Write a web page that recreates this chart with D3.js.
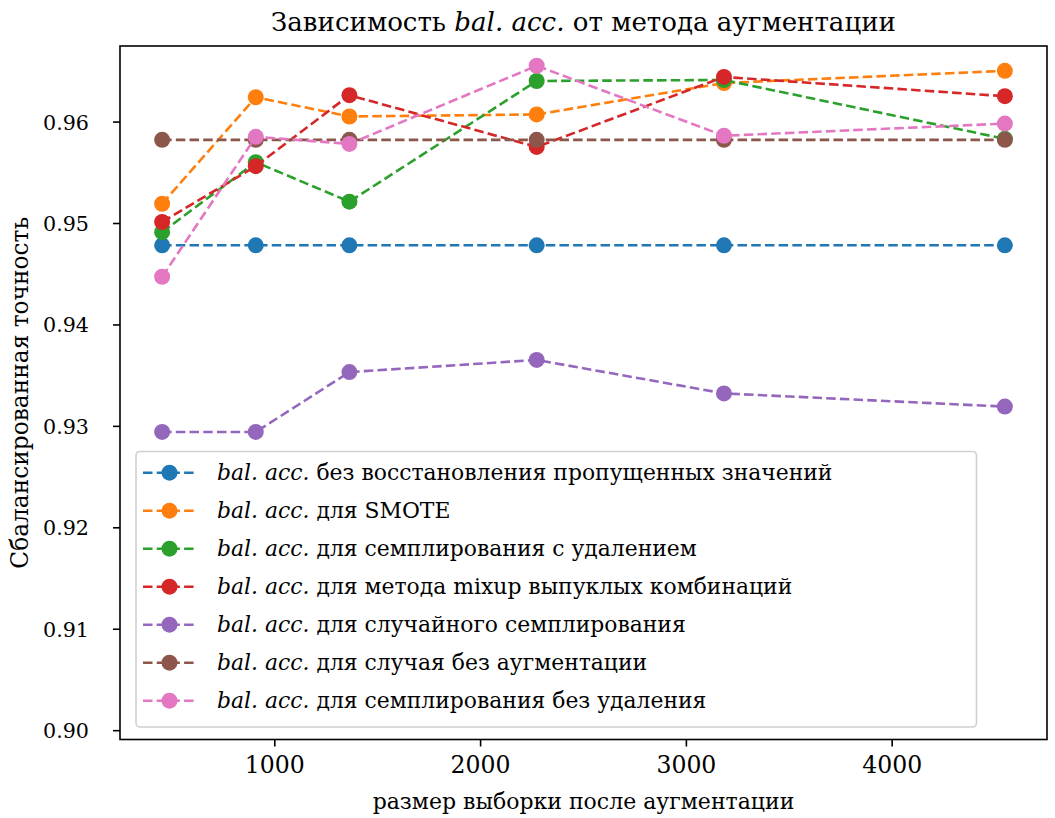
<!DOCTYPE html>
<html><head><meta charset="utf-8">
<script src="https://cdn.jsdelivr.net/npm/d3@7"></script>
<style>body{margin:0;background:#fff;} text{font-family:"DejaVu Serif","Liberation Serif",serif;}</style>
</head><body><svg id="c" width="1055" height="818"></svg>
<script>
const sizes = [455, 910, 1365, 2275, 3185, 4550];
const noAug = [0.9478, 0.9478, 0.9478, 0.9478, 0.9478, 0.9478];
const smote = [0.9519, 0.9624, 0.9605, 0.9607, 0.9638, 0.9650];
const sampDel = [0.9491, 0.9560, 0.9521, 0.9640, 0.9641, 0.9583];
const mixup = [0.9501, 0.9556, 0.9626, 0.9575, 0.9644, 0.9625];
const randSamp = [0.9294, 0.9294, 0.9353, 0.9365, 0.9332, 0.9319];
const baseline = [0.9582, 0.9582, 0.9582, 0.9582, 0.9582, 0.9582];
const sampNoDel = [0.9447, 0.9585, 0.9578, 0.9655, 0.9586, 0.9598];
const seriesLabels = ["без восстановления пропущенных значений", "для SMOTE", "для семплирования с удалением",
  "для метода mixup выпуклых комбинаций", "для случайного семплирования", "для случая без аугментации",
  "для семплирования без удаления"];
const colors = ["#1f77b4", "#ff7f0e", "#2ca02c", "#d62728", "#9467bd", "#8c564b", "#e377c2"];
const xTicks = [1000, 2000, 3000, 4000];
const yTicks = [0.90, 0.91, 0.92, 0.93, 0.94, 0.95, 0.96];
const allSeries = [noAug, smote, sampDel, mixup, randSamp, baseline, sampNoDel];

const svg = d3.select("#c");
const L = 120, R = 1047, T = 46, B = 739.5;
const pad = (sizes[sizes.length-1] - sizes[0]) * 0.05;
const x = d3.scaleLinear().domain([sizes[0] - pad, sizes[sizes.length-1] + pad]).range([L, R]);
const y = d3.scaleLinear().domain([0.89908, 0.96745]).range([B, T]);

// scale a text's font-size so its width matches a target width
function fit(sel, target) {
  const fs = +sel.attr("font-size");
  const w = sel.node().getComputedTextLength();
  const nfs = fs * target / w;
  sel.attr("font-size", nfs);
  return nfs;
}

// axes
const xa = svg.append("g").attr("transform", `translate(0,${B})`)
  .call(d3.axisBottom(x).tickValues(xTicks).tickFormat(d3.format("d")).tickSize(7).tickPadding(8));
const ya = svg.append("g").attr("transform", `translate(${L},0)`)
  .call(d3.axisLeft(y).tickValues(yTicks).tickFormat(d3.format(".2f")).tickSize(7).tickPadding(24));
[xa, ya].forEach(a => {
  a.select(".domain").remove();
  a.selectAll("line").attr("stroke", "#000").attr("stroke-width", 1.6);
  a.selectAll("text").attr("font-size", 20).attr("fill", "#000")
   .style("font-family", '"DejaVu Serif",serif');
});
ya.selectAll("text").attr("dy", "0.36em");
xa.selectAll("text").attr("dy", "0.8em");
{
  const fx = fit(xa.select("text"), 60);
  xa.selectAll("text").attr("font-size", fx);
  const fy = fit(ya.select("text"), 46);
  ya.selectAll("text").attr("font-size", fy);
}

// lines
const line = d3.line().x((d, i) => x(sizes[i])).y(d => y(d));
allSeries.forEach((s, k) => {
  const g = svg.append("g");
  g.append("path").datum(s).attr("d", line).attr("fill", "none")
    .attr("stroke", colors[k]).attr("stroke-width", 2.6).attr("stroke-dasharray", "9.5,4.2");
  g.selectAll("circle").data(s).join("circle")
    .attr("cx", (d, i) => x(sizes[i])).attr("cy", d => y(d)).attr("r", 8).attr("fill", colors[k]);
});

// frame
svg.append("rect").attr("x", L).attr("y", T).attr("width", R - L).attr("height", B - T)
  .attr("fill", "none").attr("stroke", "#000").attr("stroke-width", 1.6);

// legend
const lg = svg.append("g");
lg.append("rect").attr("x", 136).attr("y", 451.5).attr("width", 840.5).attr("height", 275.5)
  .attr("rx", 4).attr("fill", "#fff").attr("fill-opacity", 0.8).attr("stroke", "#d0d0d0").attr("stroke-width", 1.6);
let legFs = null;
seriesLabels.forEach((lab, k) => {
  const cy = 472.7 + k * 38;
  lg.append("line").attr("x1", 143).attr("x2", 197).attr("y1", cy).attr("y2", cy)
    .attr("stroke", colors[k]).attr("stroke-width", 2.6).attr("stroke-dasharray", "9.5,4.2");
  lg.append("circle").attr("cx", 169.5).attr("cy", cy).attr("r", 8).attr("fill", colors[k]);
  const t = lg.append("text").attr("class", "lt").attr("x", 217).attr("y", cy).attr("dy", "0.33em").attr("font-size", 20).attr("fill", "#000");
  t.append("tspan").attr("font-style", "italic").text("bal. acc.");
  t.append("tspan").text(" " + lab);
  if (k === 0) legFs = fit(t, 616);
  else t.attr("font-size", legFs);
});

// title & labels
const title = svg.append("text").attr("x", (L + R) / 2).attr("y", 31).attr("text-anchor", "middle")
  .attr("font-size", 22).attr("fill", "#000");
title.append("tspan").text("Зависимость ");
title.append("tspan").attr("font-style", "italic").text("bal. acc.");
title.append("tspan").text(" от метода аугментации");
fit(title, 625);
const xl = svg.append("text").attr("x", (L + R) / 2).attr("y", 809).attr("text-anchor", "middle")
  .attr("font-size", 20).attr("fill", "#000").text("размер выборки после аугментации");
fit(xl, 422);
const yl = svg.append("text").attr("transform", `translate(28,${(T + B) / 2}) rotate(-90)`).attr("text-anchor", "middle")
  .attr("font-size", 20).attr("fill", "#000").text("Сбалансированная точность");
fit(yl, 352);
</script></body></html>
